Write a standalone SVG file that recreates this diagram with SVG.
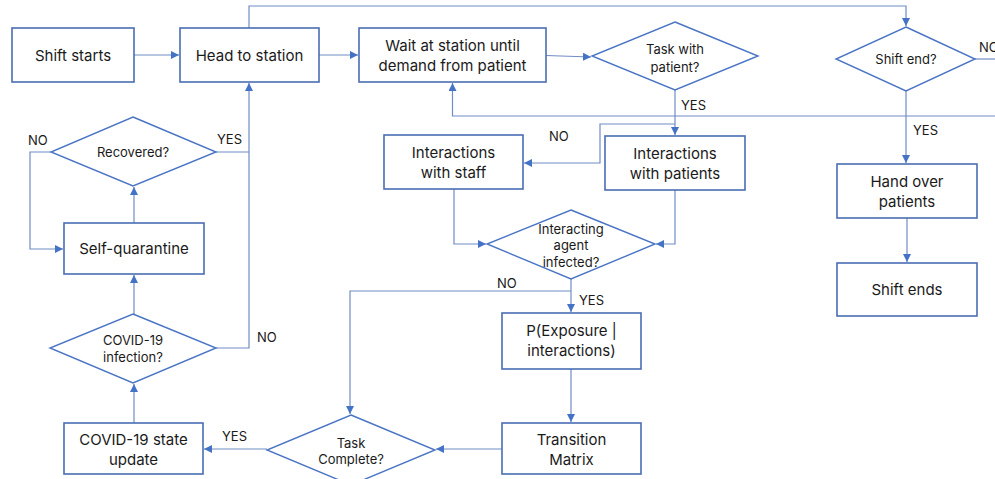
<svg xmlns="http://www.w3.org/2000/svg" width="995" height="479" viewBox="0 0 995 479">
<defs>
<marker id="arr" markerUnits="userSpaceOnUse" markerWidth="9" markerHeight="8" refX="8" refY="4" orient="auto">
<path d="M0,0 L8,4 L0,8 Z" fill="#4472C4"/>
</marker>
<style>
.box{fill:#fff;stroke:#4a6db3;stroke-width:1.6}
.dia{fill:#fff;stroke:#4a74c4;stroke-width:1.4}
.c{fill:none;stroke:#6f8cc6;stroke-width:1.2}
.t{font-family:Inter,"Noto Sans",sans-serif;font-size:15px;fill:#1a1a1a;text-anchor:middle}
.s{font-family:Inter,"Noto Sans",sans-serif;font-size:13px;fill:#1a1a1a;text-anchor:middle}
.l{font-family:Inter,"Noto Sans",sans-serif;font-size:13px;fill:#1a1a1a}
</style>
</defs>
<rect width="995" height="479" fill="#fff"/>
<g id="connectors">
<path class="c" d="M134,55 H179" marker-end="url(#arr)"/>
<path class="c" d="M249,28 V6 H906 V26" marker-end="url(#arr)"/>
<path class="c" d="M319,55 H358" marker-end="url(#arr)"/>
<path class="c" d="M546,55.5 L591,57" marker-end="url(#arr)"/>
<path class="c" d="M975,59 H995"/>
<path class="c" d="M906,91 V163" marker-end="url(#arr)"/>
<path class="c" d="M907,218 V262" marker-end="url(#arr)"/>
<path class="c" d="M995,116 H452.5 V83" marker-end="url(#arr)"/>
<path class="c" d="M675,90 V135" marker-end="url(#arr)"/>
<path class="c" d="M675,124 H600 V163 H524" marker-end="url(#arr)"/>
<path class="c" d="M454,189 V244 H486" marker-end="url(#arr)"/>
<path class="c" d="M675,190 V244 H656" marker-end="url(#arr)"/>
<path class="c" d="M571,279 V312" marker-end="url(#arr)"/>
<path class="c" d="M571,291 H350 V414" marker-end="url(#arr)"/>
<path class="c" d="M571,369 V422" marker-end="url(#arr)"/>
<path class="c" d="M502,449 H436" marker-end="url(#arr)"/>
<path class="c" d="M267,449 H204" marker-end="url(#arr)"/>
<path class="c" d="M134,423 V384" marker-end="url(#arr)"/>
<path class="c" d="M216,348 H249 V83" marker-end="url(#arr)"/>
<path class="c" d="M134,314 V275" marker-end="url(#arr)"/>
<path class="c" d="M134,223 V187" marker-end="url(#arr)"/>
<path class="c" d="M216,152 H249"/>
<path class="c" d="M51,152 H30 V249 H63" marker-end="url(#arr)"/>
</g>
<g id="labels">
<text class="l" x="979" y="52">NO</text>
<text class="l" x="913" y="135">YES</text>
<text class="l" x="681" y="110">YES</text>
<text class="l" x="549" y="141">NO</text>
<text class="l" x="497" y="288">NO</text>
<text class="l" x="579" y="305">YES</text>
<text class="l" x="222" y="441">YES</text>
<text class="l" x="257" y="342">NO</text>
<text class="l" x="217" y="144">YES</text>
<text class="l" x="28" y="145">NO</text>
</g>
<g id="shift-starts"><rect class="box" x="12" y="28" width="122" height="54"/><text class="t" x="73" y="60.5">Shift starts</text></g>
<g id="head-to-station"><rect class="box" x="180" y="28" width="139" height="54"/><text class="t" x="249.5" y="60.5">Head to station</text></g>
<g id="wait-at-station"><rect class="box" x="359" y="28" width="187" height="54"/><text class="t" x="452.5" y="51">Wait at station until</text><text class="t" x="452.5" y="70.5">demand from patient</text></g>
<g id="task-with-patient"><polygon class="dia" points="675,22 758,56 675,90 592,56"/><text class="s" x="675" y="53.5">Task with</text><text class="s" x="675" y="72">patient?</text></g>
<g id="shift-end"><polygon class="dia" points="906,27 975,59 906,91 836,59"/><text class="s" x="906" y="64">Shift end?</text></g>
<g id="hand-over"><rect class="box" x="837" y="164" width="140" height="54"/><text class="t" x="907" y="187">Hand over</text><text class="t" x="907" y="206.5">patients</text></g>
<g id="shift-ends"><rect class="box" x="837" y="263" width="140" height="53"/><text class="t" x="907" y="295">Shift ends</text></g>
<g id="interactions-staff"><rect class="box" x="384" y="135" width="139" height="54"/><text class="t" x="453.5" y="158">Interactions</text><text class="t" x="453.5" y="177.5">with staff</text></g>
<g id="interactions-patients"><rect class="box" x="605" y="136" width="140" height="54"/><text class="t" x="675" y="159">Interactions</text><text class="t" x="675" y="178.5">with patients</text></g>
<g id="interacting-agent"><polygon class="dia" points="571,210 655,244 571,279 487,244"/><text class="s" x="571" y="233.5">Interacting</text><text class="s" x="571" y="250">agent</text><text class="s" x="571" y="266.5">infected?</text></g>
<g id="p-exposure"><rect class="box" x="502" y="313" width="139" height="56"/><text class="t" x="571.5" y="336">P(Exposure |</text><text class="t" x="571.5" y="355.5">interactions)</text></g>
<g id="transition-matrix"><rect class="box" x="502" y="423" width="139" height="51"/><text class="t" x="571.5" y="445">Transition</text><text class="t" x="571.5" y="464.5">Matrix</text></g>
<g id="task-complete"><polygon class="dia" points="351,415 435,450 351,485 267,450"/><text class="s" x="351" y="447.5">Task</text><text class="s" x="351" y="464">Complete?</text></g>
<g id="covid-state-update"><rect class="box" x="64" y="423" width="139" height="51"/><text class="t" x="133.5" y="445">COVID-19 state</text><text class="t" x="133.5" y="464.5">update</text></g>
<g id="covid-infection"><polygon class="dia" points="133,314 216,348 133,383 50,348"/><text class="s" x="133" y="345">COVID-19</text><text class="s" x="133" y="361.5">infection?</text></g>
<g id="self-quarantine"><rect class="box" x="64" y="223" width="140" height="51"/><text class="t" x="134" y="254">Self-quarantine</text></g>
<g id="recovered"><polygon class="dia" points="133,117 216,152 133,186 51,152"/><text class="s" x="133" y="157">Recovered?</text></g>
</svg>
